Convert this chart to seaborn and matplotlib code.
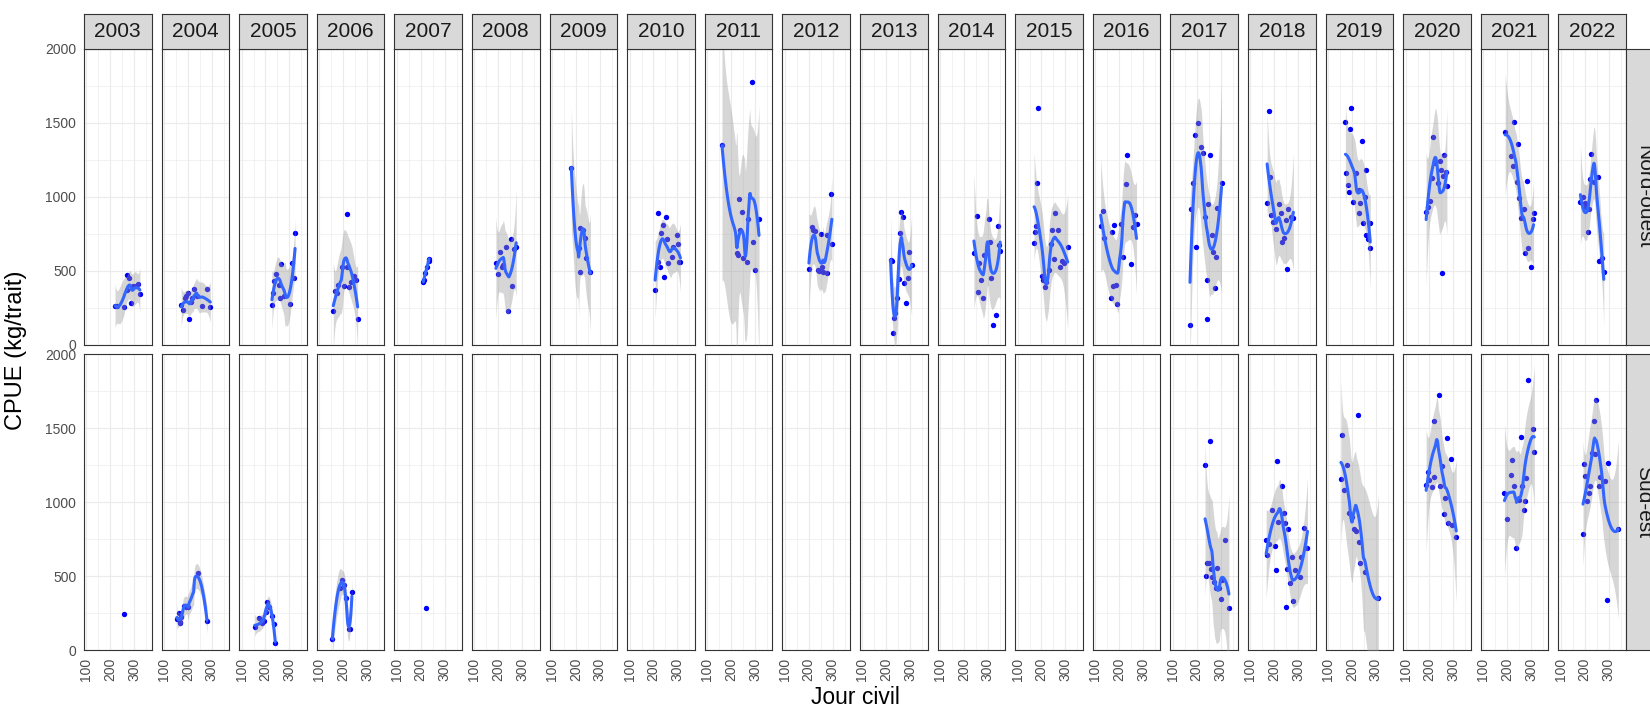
import numpy as np
import pandas as pd
import matplotlib
matplotlib.use("Agg")
import matplotlib.pyplot as plt
import seaborn as sns

# ---------------------------------------------------------------------------
# CPUE par trait selon le jour civil, par année et par secteur
# ---------------------------------------------------------------------------
ANNEES = list(range(2003, 2023))
SECTEURS = ["Nord-ouest", "Sud-est"]

# --- Nord-ouest -------------------------------------------------------------
no2003_jour = [220, 228, 258, 268, 272, 280, 285, 296, 306, 318, 324]
no2003_cpue = [265, 262, 255, 372, 471, 455, 286, 401, 399, 414, 347]
no2004_jour = [172, 180, 187, 193, 201, 206, 211, 218, 227, 240, 261, 280, 294]
no2004_cpue = [270, 236, 315, 330, 349, 173, 293, 320, 381, 330, 263, 381, 259]
no2005_jour = [227, 231, 237, 242, 255, 262, 265, 279, 304, 310, 321, 324]
no2005_cpue = [270, 349, 432, 480, 405, 320, 545, 331, 277, 552, 455, 754]
no2006_jour = [159, 166, 176, 180, 197, 204, 215, 218, 225, 232, 246, 254, 261]
no2006_cpue = [230, 365, 349, 405, 529, 399, 883, 529, 394, 428, 466, 439, 173]
no2007_jour = [211, 213, 220, 227, 233, 235]
no2007_cpue = [428, 436, 488, 529, 570, 580]
no2008_jour = [190, 197, 207, 214, 220, 232, 242, 252, 256, 266, 275]
no2008_cpue = [552, 480, 628, 529, 540, 660, 227, 716, 401, 646, 660]
no2009_jour = [181, 212, 216, 219, 229, 237, 243, 261]
no2009_cpue = [1198, 657, 495, 788, 777, 725, 586, 491]
no2010_jour = [207, 218, 221, 227, 232, 238, 246, 252, 256, 262, 276, 283, 297, 301, 308, 313]
no2010_cpue = [372, 563, 889, 529, 759, 811, 457, 863, 716, 552, 592, 660, 741, 680, 563, 559]
no2011_jour = [162, 225, 231, 235, 239, 244, 248, 265, 270, 289, 293, 299, 317]
no2011_cpue = [1351, 619, 608, 986, 777, 896, 586, 559, 849, 1777, 694, 507, 854]
no2012_jour = [201, 215, 218, 227, 241, 245, 251, 255, 262, 276, 276, 293, 297]
no2012_cpue = [511, 795, 780, 770, 507, 500, 748, 529, 495, 743, 484, 1022, 680]
no2013_jour = [218, 222, 227, 231, 235, 246, 255, 258, 263, 270, 275, 282, 289, 296, 306]
no2013_cpue = [574, 570, 83, 180, 214, 315, 448, 754, 896, 867, 417, 281, 450, 630, 540]
no2014_jour = [242, 256, 260, 263, 270, 280, 285, 306, 310, 313, 320, 334, 341, 345, 352]
no2014_cpue = [624, 874, 360, 552, 439, 315, 606, 851, 698, 450, 135, 203, 806, 673, 635]
no2015_jour = [169, 173, 179, 183, 187, 204, 208, 213, 220, 230, 239, 244, 251, 255,
               268, 279, 286, 296, 310]
no2015_cpue = [691, 766, 806, 1092, 1603, 466, 440, 390, 428, 507, 680, 777, 579, 890,
               777, 529, 570, 552, 664]
no2016_jour = [123, 131, 138, 166, 169, 175, 177, 189, 192, 207, 217, 230, 234, 252,
               258, 266, 273]
no2016_cpue = [806, 905, 721, 320, 761, 401, 811, 405, 277, 818, 592, 1090, 1286, 545,
               800, 878, 818]
no2017_jour = [172, 177, 186, 192, 199, 206, 220, 228, 235, 242, 245, 248, 256, 266,
               270, 276, 280, 283, 304]
no2017_cpue = [135, 919, 1097, 1419, 664, 1502, 1340, 1295, 867, 439, 176, 950, 1281,
               743, 626, 383, 592, 923, 1092]
no2018_jour = [170, 177, 182, 185, 196, 206, 220, 227, 234, 240, 248, 252, 259, 269, 280]
no2018_cpue = [957, 1581, 1137, 878, 833, 781, 952, 889, 694, 720, 844, 511, 916, 867, 855]
no2019_jour = [173, 176, 182, 187, 193, 197, 203, 218, 228, 228, 232, 244, 246, 256,
               261, 261, 268, 275, 277]
no2019_cpue = [1504, 1160, 1081, 1036, 1457, 1603, 964, 1164, 1047, 894, 957, 1378, 826,
               1002, 1182, 743, 714, 822, 658]
no2020_jour = [186, 193, 203, 210, 213, 224, 234, 242, 248, 252, 256, 262, 268, 273]
no2020_cpue = [901, 930, 975, 1126, 1403, 1227, 1097, 1245, 1182, 489, 1142, 1281, 1171, 1074]
no2021_jour = [192, 217, 224, 228, 241, 244, 248, 259, 272, 277, 283, 287, 301, 308, 311]
no2021_cpue = [1441, 1279, 1212, 1504, 1103, 1356, 995, 856, 917, 619, 1108, 653, 529, 851, 890]
no2022_jour = [182, 193, 200, 207, 213, 220, 223, 228, 237, 254, 262, 273, 280]
no2022_cpue = [968, 1002, 957, 930, 761, 919, 1119, 1290, 1103, 1137, 570, 585, 495]

# --- Sud-est ----------------------------------------------------------------
se2003_jour = [259]
se2003_cpue = [246]
se2004_jour = [154, 161, 166, 168, 172, 182, 192, 201, 241, 280]
se2004_cpue = [207, 248, 190, 185, 225, 300, 293, 293, 523, 198]
se2005_jour = [155, 173, 185, 194, 201, 206, 215, 227, 234, 241]
se2005_cpue = [158, 214, 180, 196, 259, 327, 293, 230, 174, 50]
se2006_jour = [155, 187, 197, 204, 211, 225, 230, 237]
se2006_cpue = [77, 417, 474, 440, 350, 140, 145, 395]
se2007_jour = [224]
se2007_cpue = [286]
se2017_jour = [235, 238, 245, 250, 255, 259, 265, 272, 280, 287, 294, 301, 308, 318, 335]
se2017_cpue = [1251, 500, 586, 590, 1409, 546, 492, 462, 417, 552, 417, 343, 474, 744, 286]
se2018_jour = [166, 170, 180, 192, 201, 206, 211, 216, 231, 241, 245, 251, 255, 259,
               265, 276, 280, 286, 307, 311, 325, 339]
se2018_cpue = [744, 643, 717, 947, 704, 541, 1274, 868, 1105, 925, 857, 293, 546, 819,
               451, 631, 331, 541, 492, 631, 823, 688]
se2019_jour = [154, 159, 168, 179, 190, 200, 207, 217, 224, 228, 235, 254, 311]
se2019_cpue = [1155, 1454, 1078, 1251, 929, 902, 816, 801, 1585, 733, 591, 530, 354]
se2020_jour = [186, 193, 200, 210, 217, 221, 238, 245, 253, 259, 266, 273, 277, 289, 294, 312]
se2020_cpue = [1116, 1206, 1150, 1098, 1545, 1168, 1721, 1105, 1245, 920, 1026, 1432,
               857, 1292, 846, 762]
se2021_jour = [189, 199, 217, 220, 231, 238, 252, 258, 262, 269, 276, 280, 287, 307, 314]
se2021_cpue = [1060, 886, 1184, 1281, 1109, 692, 1015, 1436, 1105, 947, 1010, 1161,
               1826, 1493, 1337]
se2022_jour = [193, 196, 203, 210, 217, 224, 231, 238, 245, 248, 259, 266, 286, 294, 297, 341]
se2022_cpue = [785, 1256, 1173, 1010, 1060, 1109, 1330, 1545, 1324, 1691, 1109, 1168,
               1139, 338, 1263, 819]

Y_TICKS = [0, 500, 1000, 1500, 2000]
X_TICKS = [100, 200, 300]

# ---------------------------------------------------------------------------
# Long table (secteur, année, jour, cpue)
# ---------------------------------------------------------------------------
rows = []
for prefix, secteur in (("no", "Nord-ouest"), ("se", "Sud-est")):
    for an in ANNEES:
        jours = globals().get(f"{prefix}{an}_jour")
        cpues = globals().get(f"{prefix}{an}_cpue")
        if jours is None:
            continue
        for j, c in zip(jours, cpues):
            rows.append((secteur, an, j, c))
df = pd.DataFrame(rows, columns=["secteur", "annee", "jour", "cpue"])


# ---------------------------------------------------------------------------
# Local quadratic regression (loess-type) with a 95 % confidence band
# ---------------------------------------------------------------------------
def t975(nu):
    z = 1.959964
    nu = max(nu, 1.0)
    g1 = (z**3 + z) / 4
    g2 = (5 * z**5 + 16 * z**3 + 3 * z) / 96
    g3 = (3 * z**7 + 19 * z**5 + 17 * z**3 - 15 * z) / 384
    g4 = (79 * z**9 + 776 * z**7 + 1482 * z**5 - 1920 * z**3 - 945 * z) / 92160
    return z + g1 / nu + g2 / nu**2 + g3 / nu**3 + g4 / nu**4


def loess_band(x, y, span=0.75, n_out=80):
    x = np.asarray(x, float)
    y = np.asarray(y, float)
    n = len(x)
    q = min(max(int(np.floor(n * span)), 4), n)

    def smoother_row(x0):
        d = np.abs(x - x0)
        ds = np.sort(d)
        h = ds[q - 1] if q == n else 0.5 * (ds[q - 1] + ds[q])
        h = max(h, 1e-9) * (1.0001 if q == n else 1.0)
        u = d / h
        w = np.where(u < 1, (1 - u**3) ** 3, 0.0)
        X = np.column_stack([np.ones(n), x - x0, (x - x0) ** 2])
        sw = np.sqrt(w)
        P = np.linalg.pinv(X * sw[:, None])
        return P[0] * sw

    L = np.array([smoother_row(v) for v in x])
    xs = np.linspace(x.min(), x.max(), n_out)
    Ls = np.array([smoother_row(v) for v in xs])
    fit = Ls @ y
    R = np.eye(n) - L
    M = R.T @ R
    d1 = np.trace(M)
    d2 = np.trace(M @ M)
    rss = float(np.sum((R @ y) ** 2))
    sigma = np.sqrt(rss / d1) if d1 > 1e-8 else 0.0
    nu = d1**2 / d2 if d2 > 1e-12 else 1.0
    se = sigma * np.sqrt((Ls**2).sum(axis=1))
    t = t975(nu)
    return pd.DataFrame({"jour": xs, "cpue": fit,
                         "bas": fit - t * se, "haut": fit + t * se})


# ---------------------------------------------------------------------------
# Figure: facet grid secteur x année, built in pixel units
# ---------------------------------------------------------------------------
sns.set_theme(style="white")
plt.rcParams["font.family"] = ["Liberation Sans", "DejaVu Sans"]

W, H = 1650, 707
fig = plt.figure(figsize=(W / 100, H / 100), dpi=100)


def add_px_axes(x0, y0, w, h, **kw):
    return fig.add_axes([x0 / W, 1 - (y0 + h) / H, w / W, h / H], **kw)


GRID = "#EBEBEB"
BORDER = "#333333"
TICKTXT = "#4D4D4D"
STRIP = "#D9D9D9"

LEFT0, STEP, PW = 84.0, 77.6, 67.6
ROW_Y = {"Nord-ouest": 49.0, "Sud-est": 354.0}
PH = 296.0
STRIP_H = 35.0

for r, secteur in enumerate(SECTEURS):
    for i, an in enumerate(ANNEES):
        x0 = LEFT0 + i * STEP
        ax = add_px_axes(x0, ROW_Y[secteur], PW, PH)
        ax.set_facecolor("white")
        ax.set_axisbelow(True)
        ax.set_xlim(90, 373)
        ax.set_ylim(0, 2000)
        ax.set_xticks(X_TICKS)
        ax.set_xticks([150, 250, 350], minor=True)
        ax.set_yticks(Y_TICKS)
        ax.set_yticks([250, 750, 1250, 1750], minor=True)
        ax.grid(which="major", color=GRID, linewidth=0.85)
        ax.grid(which="minor", color=GRID, linewidth=0.45)
        for sp in ax.spines.values():
            sp.set_color(BORDER)
            sp.set_linewidth(0.8)

        sub = df[(df.secteur == secteur) & (df.annee == an)]
        if len(sub):
            sns.scatterplot(data=sub, x="jour", y="cpue", ax=ax, color="#0000FF",
                            s=15, linewidth=0, zorder=3, legend=False)
        if len(sub) >= 3:
            fit = loess_band(sub.jour.values, sub.cpue.values)
            ax.fill_between(fit.jour, fit.bas, fit.haut, color="#999999",
                            alpha=0.4, linewidth=0, zorder=4)
            sns.lineplot(data=fit, x="jour", y="cpue", ax=ax, color="#3366FF",
                         linewidth=2.2, estimator=None, sort=False, zorder=5)
        ax.set_xlabel("")
        ax.set_ylabel("")

        ax.tick_params(which="minor", length=0)
        ax.tick_params(axis="both", which="major", colors=BORDER, width=0.8,
                       length=3.5, labelcolor=TICKTXT, labelsize=10, pad=2)
        if i == 0:
            ax.set_yticklabels([str(v) for v in Y_TICKS])
        else:
            ax.tick_params(axis="y", left=False, labelleft=False)
        if r == 1:
            ax.set_xticklabels([str(v) for v in X_TICKS], rotation=90)
        else:
            ax.tick_params(axis="x", bottom=False, labelbottom=False)

        if r == 0:
            st = add_px_axes(x0, ROW_Y[secteur] - STRIP_H, PW, STRIP_H)
            st.set_facecolor(STRIP)
            st.set_xticks([])
            st.set_yticks([])
            for sp in st.spines.values():
                sp.set_color(BORDER)
                sp.set_linewidth(0.8)
            st.text(0.5, 0.5, str(an), ha="center", va="center",
                    fontsize=15, color="#1A1A1A", transform=st.transAxes)

    # row strip on the right-hand side
    st = add_px_axes(LEFT0 + 19 * STEP + PW, ROW_Y[secteur], STRIP_H, PH)
    st.set_facecolor(STRIP)
    st.set_xticks([])
    st.set_yticks([])
    for sp in st.spines.values():
        sp.set_color(BORDER)
        sp.set_linewidth(0.8)
    st.text(0.5, 0.5, secteur, ha="center", va="center", rotation=-90,
            fontsize=15, color="#1A1A1A", transform=st.transAxes)

fig.text(16 / W, 1 - 350 / H, "CPUE (kg/trait)", rotation=90, ha="center",
         va="center", fontsize=17, color="black")
fig.text(855 / W, 1 - 697 / H, "Jour civil", ha="center", va="center",
         fontsize=16.5, color="black")

fig.savefig("out.png", dpi=100, facecolor="white")
